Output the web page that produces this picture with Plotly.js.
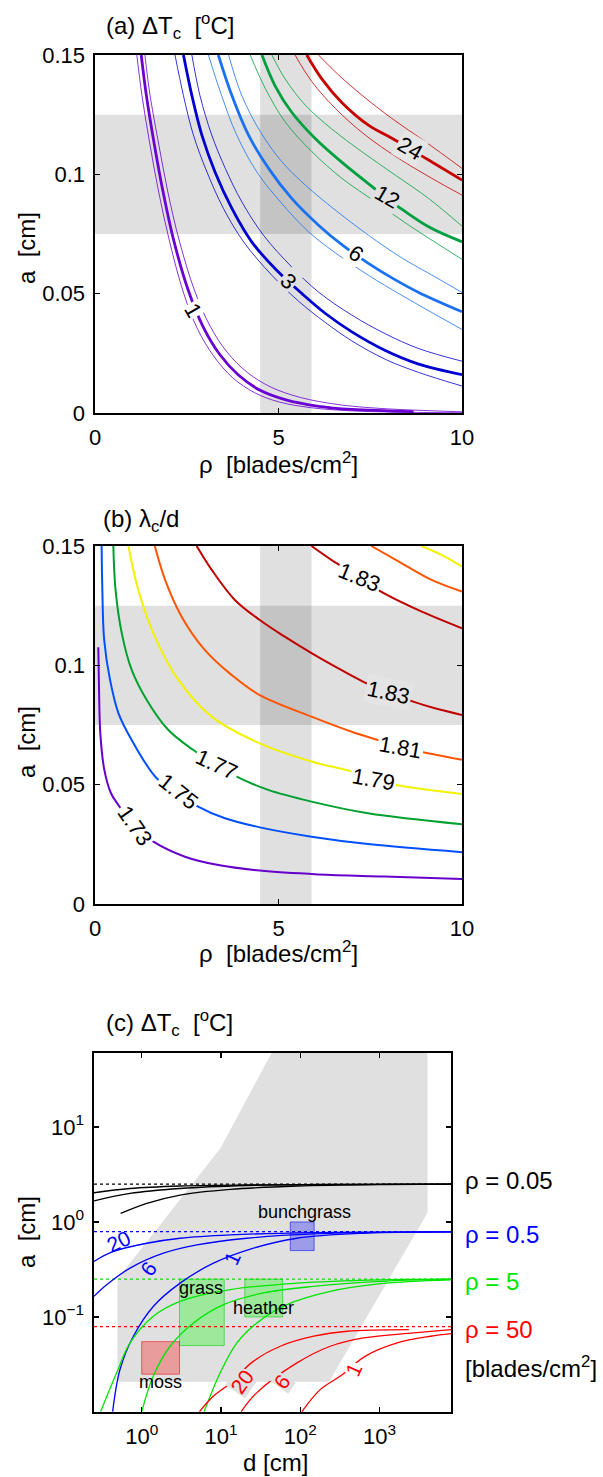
<!DOCTYPE html>
<html>
<head>
<meta charset="utf-8">
<script src="https://cdn.plot.ly/plotly-3.0.1.min.js"></script>
<style>html,body{margin:0;padding:0;background:#fff;}#chart{width:603px;height:1477px;}</style>
</head>
<body>
<div id="chart"></div>
<script>
// ---------- Panel (a): ΔTc contours in (rho, a) ----------
const levelsA = [1, 3, 6, 12, 24];
const rhoA1   = [1.26,1.4,1.6,1.85,2.15,2.55,2.95,3.4,3.9,4.5,5.2,6.1,7.0,8.68];
const aA1     = [0.150,0.133,0.114,0.093,0.072,0.051,0.036,0.0245,0.016,0.0095,0.0055,0.0028,0.0015,0.0006];
const rhoA1lo = [1.14,1.28,1.48,1.73,2.03,2.42,2.8,3.25,3.75,4.35,5.0,5.9,7.0,8.5,10];
const aA1lo   = [0.150,0.133,0.114,0.093,0.072,0.050,0.035,0.0235,0.0148,0.0085,0.0047,0.0022,0.0009,0.0003,0.0001];
const rhoA1hi = [1.36,1.5,1.72,1.98,2.3,2.72,3.15,3.6,4.15,4.8,5.6,6.6,7.8,10];
const aA1hi   = [0.150,0.133,0.114,0.093,0.072,0.051,0.036,0.0255,0.017,0.0108,0.0065,0.0036,0.0019,0.0005];

const rhoA3   = [2.41,2.64,2.91,3.27,3.73,4.27,4.95,5.64,6.27,7.0,7.91,8.82,10];
const aA3     = [0.150,0.133,0.1165,0.101,0.0857,0.0717,0.0598,0.050,0.0418,0.034,0.0262,0.0205,0.0161];
const rhoA3lo = [2.18,2.41,2.68,3.05,3.5,4.05,4.82,5.55,6.27,7.0,7.91,8.82,10];
const aA3lo   = [0.150,0.133,0.1165,0.101,0.0857,0.0717,0.0577,0.0468,0.038,0.0302,0.0225,0.017,0.0113];
const rhoA3hi = [2.64,2.86,3.18,3.55,4.0,4.59,5.36,6.09,7.0,7.91,8.82,10];
const aA3hi   = [0.150,0.133,0.1165,0.1025,0.0885,0.0745,0.0612,0.0507,0.041,0.0332,0.027,0.0217];

const rhoA6   = [3.36,3.73,4.18,4.73,5.36,6.09,6.77,7.45,8.09,8.82,10];
const aA6     = [0.150,0.133,0.1165,0.1025,0.0899,0.0787,0.070,0.0627,0.0566,0.0505,0.0424];
const rhoA6lo = [3.09,3.45,3.86,4.41,5.05,5.82,6.64,7.45,8.36,10];
const aA6lo   = [0.150,0.133,0.1165,0.101,0.0885,0.0759,0.0661,0.0577,0.0493,0.035];
const rhoA6hi = [3.64,4.0,4.5,5.09,5.73,6.55,7.45,8.36,9.27,10];
const aA6hi   = [0.150,0.133,0.118,0.1053,0.0955,0.085,0.0745,0.065,0.057,0.0505];

const rhoA12   = [4.55,4.91,5.36,6.0,6.73,7.5,8.27,9.09,10];
const aA12     = [0.150,0.137,0.126,0.115,0.105,0.0955,0.0864,0.078,0.0717];
const rhoA12lo = [4.23,4.64,5.18,5.91,6.73,7.64,8.55,10];
const aA12lo   = [0.150,0.136,0.122,0.1095,0.0983,0.0885,0.0787,0.0644];
const rhoA12hi = [4.82,5.18,5.73,6.45,7.27,8.18,9.09,10];
const aA12hi   = [0.150,0.140,0.129,0.119,0.1095,0.0997,0.0899,0.0783];

const rhoA24   = [5.77,6.18,6.73,7.45,8.09,9.09,10];
const aA24     = [0.150,0.140,0.130,0.1206,0.1151,0.106,0.0976];
const rhoA24lo = [5.45,5.91,6.55,7.36,8.27,9.18,10];
const aA24lo   = [0.150,0.1388,0.1276,0.1165,0.1067,0.0983,0.0913];
const rhoA24hi = [6.09,6.64,7.27,8.09,9.0,10];
const aA24hi   = [0.150,0.1416,0.1332,0.1234,0.1137,0.1025];

// shaded ranges (rho band and a band), shared by (a) and (b)
const bandRho = [4.5, 5.9];
const bandA   = [0.075, 0.125];

// ---------- Panel (b): lambda_c / d contours ----------
const levelsB = ['1.73','1.75','1.77','1.79','1.81','1.83'];
const rhoB173 = [0.09,0.11,0.145,0.254,0.436,0.635,1.1,1.59,2.45,3.36,4.49,6.08,7.89,10];
const aB173   = [0.1076,0.0897,0.0715,0.0562,0.0464,0.0415,0.032,0.0261,0.0198,0.0163,0.014,0.0124,0.0115,0.0105];
const rhoB175 = [0.18,0.2,0.25,0.41,0.64,1.0,1.68,2.27,2.81,3.54,4.49,5.9,7.44,10];
const aB175   = [0.150,0.1316,0.1106,0.0939,0.0799,0.0687,0.0527,0.0464,0.0408,0.0359,0.0321,0.0282,0.0251,0.0217];
const rhoB177 = [0.5,0.56,0.73,1.0,1.41,2.0,2.68,3.31,3.86,4.72,5.9,7.44,10];
const aB177   = [0.150,0.1316,0.1134,0.0981,0.0855,0.0729,0.0645,0.0583,0.0534,0.0478,0.0429,0.038,0.0334];
const rhoB179 = [0.91,1.18,1.63,2.27,3.18,4.49,5.9,6.99,7.6,8.21,10];
const aB179   = [0.150,0.1316,0.112,0.0939,0.0785,0.0673,0.0597,0.0555,0.0522,0.0499,0.0461];
const rhoB179b = [8.89,9.44,10];
const aB179b   = [0.150,0.1463,0.1414];
const rhoB181 = [1.63,1.91,2.36,2.99,3.72,4.49,5.9,6.99,7.71,8.33,8.89,10];
const aB181   = [0.150,0.1358,0.1204,0.1065,0.096,0.0875,0.0785,0.0722,0.0687,0.0657,0.0638,0.0604];
const rhoB181b = [7.53,8.35,9.17,10];
const aB181b   = [0.150,0.1428,0.1358,0.1309];
const rhoB183 = [2.77,3.18,3.81,4.49,5.17,5.9,6.62,7.3,7.99,8.67,9.26,10];
const aB183   = [0.150,0.140,0.1274,0.119,0.112,0.1051,0.0988,0.0932,0.0886,0.0848,0.082,0.0792];
const rhoB183b = [5.9,6.44,7.21,7.71,8.8,10];
const aB183b   = [0.150,0.1442,0.1369,0.1316,0.1232,0.1155];

// ---------- Panel (c): ΔTc curves in (d, a), log-log ----------
const rhoLabelsC = ['0.05','0.5','5','50'];
const levelsC = ['20','6','1'];
const asymA = [2.5, 0.79, 0.25, 0.079];        // dotted limits for each rho
const dSpan = [0.25, 8000];
// rho = 0.05
const dC005_20 = [0.25,0.713,3.05,21.2,8000];          const aC005_20 = [2.03,2.25,2.39,2.46,2.5];
const dC005_6  = [0.25,0.713,3.05,21.2,171,8000];      const aC005_6  = [1.67,2.0,2.25,2.42,2.48,2.5];
const dC005_1  = [0.543,1.16,3.05,13.1,91,1190,8000];  const aC005_1  = [1.23,1.57,1.92,2.2,2.39,2.48,2.5];
// rho = 0.5
const dC05_20 = [0.25,0.438,1.16,3.05,13.1,148,8000];            const aC05_20 = [0.384,0.489,0.597,0.674,0.731,0.773,0.792];
const dC05_6  = [0.25,0.361,0.713,1.88,4.96,21.2,148,8000];      const aC05_6  = [0.165,0.218,0.327,0.469,0.574,0.674,0.748,0.785];
const dC05_1  = [0.43,0.532,0.785,1.40,3.05,8.05,25.8,91,634,8000]; const aC05_1 = [0.0101,0.028,0.0627,0.129,0.227,0.368,0.53,0.674,0.76,0.785];
// rho = 5
const dC5_20 = [0.303,0.483,0.713,1.40,3.05,13.1,91,1030,8000]; const aC5_20 = [0.0101,0.0259,0.0533,0.1016,0.146,0.194,0.227,0.246,0.25];
const dC5_6  = [1.0,1.40,2.28,4.5,10.8,34.5,148,1030,8000];     const aC5_6  = [0.0101,0.0239,0.0492,0.0865,0.135,0.179,0.21,0.237,0.25];
const dC5_1  = [6.14,9.78,15.9,28.4,68.1,240,1030,8000];        const aC5_1  = [0.0101,0.0259,0.0533,0.0865,0.135,0.186,0.224,0.246];
// rho = 50
const dC50_20 = [5.36,8.05,12.5,25.8,56.1,148,391,2350];    const aC50_20 = [0.0101,0.0147,0.0195,0.0343,0.0492,0.0627,0.0708,0.0736];
const dC50_6  = [18,28.4,91,240,634,2720,8000];             const aC50_6  = [0.0101,0.016,0.0329,0.0492,0.0602,0.068,0.0736];
const dC50_1  = [105,180,321,666,1675,4420,8000];           const aC50_1  = [0.0101,0.0173,0.0239,0.0387,0.0533,0.0627,0.0668];
// observed-range polygon and vegetation boxes
const regionD = [0.5,0.5,10,44,4000,4000,230,0.5];
const regionA = [0.021,0.25,6,60,60,1.25,0.021,0.021];
const vegNames = ['bunchgrass','grass','heather','moss'];
const vegD = [[75,150],[3,11],[20,60],[1,3]];
const vegA = [[0.5,1.0],[0.05,0.25],[0.1,0.25],[0.025,0.055]];

// ---------- drawing ----------
const FONT = 'Liberation Sans, Arial, Helvetica, sans-serif';
const W = 603, H = 1477;
const px = v => v / W, py = v => 1 - v / H;
const traces = [];
function line(x, y, color, width, xa, ya, dash) {
  traces.push({type:'scatter', mode:'lines', x:x, y:y, xaxis:xa, yaxis:ya,
    line:{color:color, width:width, dash:dash||'solid', shape:'spline', smoothing:1},
    hoverinfo:'skip', connectgaps:false});
}
// (a)
const colA = ['#6a00d2','#0000d2','#1a72f2','#00a040','#c80000'];
const setsA = [[rhoA1,aA1,rhoA1lo,aA1lo,rhoA1hi,aA1hi],[rhoA3,aA3,rhoA3lo,aA3lo,rhoA3hi,aA3hi],
  [rhoA6,aA6,rhoA6lo,aA6lo,rhoA6hi,aA6hi],[rhoA12,aA12,rhoA12lo,aA12lo,rhoA12hi,aA12hi],
  [rhoA24,aA24,rhoA24lo,aA24lo,rhoA24hi,aA24hi]];
setsA.forEach((s,i)=>{
  line(s[2],s[3],colA[i],0.8,'x','y');
  line(s[4],s[5],colA[i],0.8,'x','y');
  line(s[0],s[1],colA[i],2.8,'x','y');
});
// (b)
const colB = ['#6600cc','#0050ff','#00a030','#f2f200','#ff5500','#c00000'];
const setsB = [[rhoB173,aB173],[rhoB175,aB175],[rhoB177,aB177],[rhoB179,aB179],[rhoB181,aB181],[rhoB183,aB183]];
setsB.forEach((s,i)=> line(s[0],s[1],colB[i],2,'x2','y2'));
line(rhoB179b,aB179b,colB[3],2,'x2','y2');
line(rhoB181b,aB181b,colB[4],2,'x2','y2');
line(rhoB183b,aB183b,colB[5],2,'x2','y2');
// (c)
traces.push({type:'scatter',mode:'lines',x:regionD,y:regionA,xaxis:'x3',yaxis:'y3',fill:'toself',
  fillcolor:'#e0e0e0',line:{color:'#d6d6d6',width:0.5},hoverinfo:'skip'});
const vegFill = ['rgba(0,0,255,0.3)','rgba(0,255,0,0.3)','rgba(0,255,0,0.3)','rgba(255,0,0,0.3)'];
const vegLine = ['rgba(0,0,255,0.55)','rgba(0,200,0,0.55)','rgba(0,200,0,0.55)','rgba(230,0,0,0.55)'];
vegNames.forEach((n,i)=>{
  const d=vegD[i], a=vegA[i];
  traces.push({type:'scatter',mode:'lines',x:[d[0],d[1],d[1],d[0],d[0]],y:[a[0],a[0],a[1],a[1],a[0]],
    xaxis:'x3',yaxis:'y3',fill:'toself',fillcolor:vegFill[i],line:{color:vegLine[i],width:1},hoverinfo:'skip'});
});
const colC = ['#000000','#0000ff','#00e600','#ff0000'];
asymA.forEach((a,i)=> line(dSpan,[a,a],colC[i],1.3,'x3','y3','dot'));
const setsC = [
  [[dC005_20,aC005_20],[dC005_6,aC005_6],[dC005_1,aC005_1]],
  [[dC05_20,aC05_20],[dC05_6,aC05_6],[dC05_1,aC05_1]],
  [[dC5_20,aC5_20],[dC5_6,aC5_6],[dC5_1,aC5_1]],
  [[dC50_20,aC50_20],[dC50_6,aC50_6],[dC50_1,aC50_1]]];
setsC.forEach((g,i)=> g.forEach(s=> line(s[0],s[1],colC[i],1.3,'x3','y3')));

// ---------- layout ----------
const axBase = {showline:true, linecolor:'#000', linewidth:1.6, mirror:'ticks', ticks:'inside',
  ticklen:5, tickwidth:1.2, tickcolor:'#000', showgrid:false, zeroline:false,
  tickfont:{family:FONT, size:22, color:'#000'}, ticklabelstandoff:4};
const ax = o => Object.assign({}, axBase, o);
const anns = [];
function txt(x, y, text, opt) {
  anns.push(Object.assign({xref:'paper', yref:'paper', x:px(x), y:py(y), text:text, showarrow:false,
    font:{family:FONT, size:24, color:'#000'}, xanchor:'center', yanchor:'middle'}, opt||{}));
}
// titles
txt(104, 26, '(a) ΔT<sub>c</sub>\u00a0\u00a0[<sup>o</sup>C]', {xanchor:'left'});
txt(101, 520, '(b) λ<sub>c</sub>/d', {xanchor:'left'});
txt(104, 1023, '(c) ΔT<sub>c</sub>\u00a0\u00a0[<sup>o</sup>C]', {xanchor:'left'});
// axis titles
txt(278, 463, 'ρ\u00a0\u00a0[blades/cm<sup>2</sup>]');
txt(278, 952, 'ρ\u00a0\u00a0[blades/cm<sup>2</sup>]');
txt(275, 1462, 'd [cm]');
txt(26, 248, 'a\u00a0\u00a0[cm]', {textangle:-90});
txt(26, 742, 'a\u00a0\u00a0[cm]', {textangle:-90});
txt(26, 1232, 'a\u00a0\u00a0[cm]', {textangle:-90});
// rho legend for (c)
rhoLabelsC.forEach((r,i)=> txt(463, [1180,1234,1281,1329][i], 'ρ = '+r, {xanchor:'left', font:{family:FONT,size:24,color:colC[i]}}));
txt(463, 1367, '[blades/cm<sup>2</sup>]', {xanchor:'left'});
// contour labels (a)
const labPosA = [[2.68,0.043,60,'#fff'],[5.27,0.055,45,'#e0e0e0'],[7.11,0.0668,35,'#fff'],[7.95,0.0906,30,'#e0e0e0'],[8.59,0.1109,30,'#e6e6e6']];
levelsA.forEach((l,i)=>{ const p=labPosA[i];
  anns.push({xref:'x',yref:'y',x:p[0],y:p[1],text:String(l),showarrow:false,textangle:p[2],bgcolor:p[3],borderpad:1,
    font:{family:FONT,size:22,color:'#000'}}); });
// contour labels (b)
const labPosB = [[1.09,0.0331,55,'#fff'],[2.27,0.0471,38,'#fff'],[3.31,0.0583,25,'#fff'],[7.6,0.0522,10,'#fff'],[8.33,0.0657,10,'#fff'],[7.99,0.0886,12,'#e4e4e4']];
levelsB.forEach((l,i)=>{ const p=labPosB[i];
  anns.push({xref:'x2',yref:'y2',x:p[0],y:p[1],text:l,showarrow:false,textangle:p[2],bgcolor:p[3],borderpad:1,
    font:{family:FONT,size:22,color:'#000'}}); });
anns.push({xref:'x2',yref:'y2',x:7.21,y:0.1369,text:levelsB[5],showarrow:false,textangle:22,bgcolor:'#fff',borderpad:1,
    font:{family:FONT,size:22,color:'#000'}});
// contour labels (c)
const L = Math.log10;
const labPosC = [[1,0.507,0.622,-25,'rgba(0,0,0,0)'],[1,1.21,0.327,-55,'rgba(0,0,0,0)'],[1,13.7,0.416,-65,'rgba(0,0,0,0)'],
                 [3,18.4,0.0211,-55,'#e0e0e0'],[3,58.9,0.021,-55,'#e0e0e0'],[3,474,0.028,-65,'#fff']];
labPosC.forEach((p,i)=>{
  anns.push({xref:'x3',yref:'y3',x:L(p[1]),y:L(p[2]),text:levelsC[i%3],showarrow:false,textangle:p[3],bgcolor:p[4],borderpad:0,
    font:{family:FONT,size:21,color:colC[p[0]]}}); });
// vegetation names
const vegLab = [[112,1.26],[5.6,0.2],[34.5,0.123],[1.74,0.0209]];
vegNames.forEach((n,i)=> anns.push({xref:'x3',yref:'y3',x:L(vegLab[i][0]),y:L(vegLab[i][1]),text:n,showarrow:false,
  font:{family:FONT,size:18,color:'#000'}}));

const bandShapes = [];
[['x','y'],['x2','y2']].forEach(r=>{
  bandShapes.push({type:'rect',xref:r[0],yref:r[1],x0:bandRho[0],x1:bandRho[1],y0:0,y1:0.15,fillcolor:'rgba(0,0,0,0.12)',line:{width:0},layer:'below'});
  bandShapes.push({type:'rect',xref:r[0],yref:r[1],x0:0,x1:10,y0:bandA[0],y1:bandA[1],fillcolor:'rgba(0,0,0,0.12)',line:{width:0},layer:'below'});
});

const yLinTicks = {tickvals:[0,0.05,0.1,0.15], ticktext:['0','0.05','0.1','0.15']};
const layout = {
  width:W, height:H, margin:{l:0,r:0,t:0,b:0}, showlegend:false,
  paper_bgcolor:'#fff', plot_bgcolor:'#fff', font:{family:FONT,size:22,color:'#000'},
  xaxis: ax({domain:[px(95),px(462)], range:[0,10], tickvals:[0,5,10], anchor:'y'}),
  yaxis: ax(Object.assign({domain:[py(413),py(55)], range:[0,0.15], anchor:'x'}, yLinTicks)),
  xaxis2: ax({domain:[px(95),px(462)], range:[0,10], tickvals:[0,5,10], anchor:'y2'}),
  yaxis2: ax(Object.assign({domain:[py(904),py(546)], range:[0,0.15], anchor:'x2'}, yLinTicks)),
  xaxis3: ax({type:'log', domain:[px(94),px(451)], range:[L(dSpan[0]),L(dSpan[1])], anchor:'y3',
    tickvals:[1,10,100,1000], ticktext:['10<sup>0</sup>','10<sup>1</sup>','10<sup>2</sup>','10<sup>3</sup>']}),
  yaxis3: ax({type:'log', domain:[py(1412),py(1053)], range:[-2,L(60)], anchor:'x3',
    tickvals:[0.1,1,10], ticktext:['10<sup>−1</sup>','10<sup>0</sup>','10<sup>1</sup>']}),
  shapes: bandShapes, annotations: anns
};
Plotly.newPlot('chart', traces, layout, {staticPlot:true, displayModeBar:false});
</script>
</body>
</html>
